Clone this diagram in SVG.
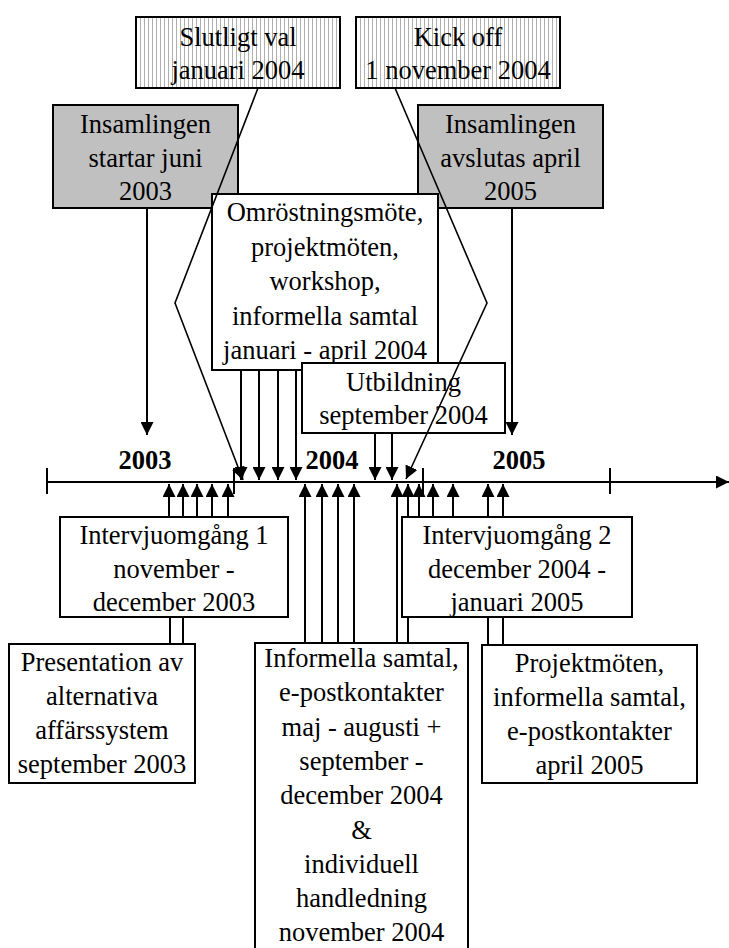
<svg xmlns="http://www.w3.org/2000/svg" width="729" height="948" viewBox="0 0 729 948">
  <defs>
    <!-- vertical hairline hatching for the milestone boxes -->
    <pattern id="stripes" width="4" height="10" patternUnits="userSpaceOnUse">
      <rect width="4" height="10" fill="#fff"/>
      <rect x="0" width="1" height="10" fill="#b0b0b0"/>
    </pattern>
    <marker id="arrow" viewBox="0 0 13 13" refX="13" refY="6.5" markerWidth="13" markerHeight="13" markerUnits="userSpaceOnUse" orient="auto">
      <path d="M0,0 L13,6.5 L0,13 z" fill="#000"/>
    </marker>
  </defs>
  <style>
    .box { stroke: #000; stroke-width: 2; fill: #fff; }
    .gray { fill: #c0c0c0; }
    .striped { fill: url(#stripes); }
    text { font-family: "Liberation Serif", "Times New Roman", serif; font-size: 26.5px; text-anchor: middle; fill: #000; }
    .year { font-weight: bold; }
    .axis line { stroke: #000; stroke-width: 2; }
    .conn line, .conn polyline { stroke: #000; stroke-width: 2; fill: none; }
    .conn .arr { marker-end: url(#arrow); }
    .conn .diag { stroke-width: 1.6; }
  </style>

  <rect width="729" height="948" fill="#fff"/>

  <!-- time axis -->
  <g id="timeline" class="axis">
    <line x1="47" y1="482" x2="729" y2="482" marker-end="url(#arrow)"/>
    <line x1="47" y1="468" x2="47" y2="494"/>
    <line x1="234" y1="468" x2="234" y2="494"/>
    <line x1="423" y1="468" x2="423" y2="494"/>
    <line x1="610" y1="468" x2="610" y2="494"/>
    <text class="year" x="145" y="469">2003</text>
    <text class="year" x="332" y="469">2004</text>
    <text class="year" x="519" y="469">2005</text>
  </g>

  <!-- upper milestones -->
  <g id="slutligt-val">
    <rect class="box striped" x="136" y="17" width="204" height="71"/>
    <text x="238" y="46">Slutligt val</text>
    <text x="238" y="79">januari 2004</text>
  </g>
  <g id="kick-off">
    <rect class="box striped" x="356" y="17" width="204" height="71"/>
    <text x="458" y="46">Kick off</text>
    <text x="458" y="79">1 november 2004</text>
  </g>
  <g id="insamling-start">
    <rect class="box gray" x="53" y="105" width="185" height="103"/>
    <text x="145.5" y="133">Insamlingen</text>
    <text x="145.5" y="167">startar juni</text>
    <text x="145.5" y="200">2003</text>
  </g>
  <g id="insamling-slut">
    <rect class="box gray" x="418" y="105" width="185" height="103"/>
    <text x="510.5" y="133">Insamlingen</text>
    <text x="510.5" y="167">avslutas april</text>
    <text x="510.5" y="200">2005</text>
  </g>
  <g id="omrostning">
    <rect class="box" x="212" y="194" width="226" height="176"/>
    <text x="325" y="221">Omröstningsmöte,</text>
    <text x="325" y="255.5">projektmöten,</text>
    <text x="325" y="290">workshop,</text>
    <text x="325" y="324.5">informella samtal</text>
    <text x="325" y="359">januari - april 2004</text>
  </g>
  <g id="utbildning">
    <rect class="box" x="302" y="363" width="203" height="70"/>
    <text x="403.5" y="391">Utbildning</text>
    <text x="403.5" y="424">september 2004</text>
  </g>

  <!-- lower activities -->
  <g id="intervju-1">
    <rect class="box" x="60" y="517" width="228" height="100"/>
    <text x="174" y="544">Intervjuomgång 1</text>
    <text x="174" y="578">november -</text>
    <text x="174" y="611">december 2003</text>
  </g>
  <g id="intervju-2">
    <rect class="box" x="402" y="517" width="230" height="100"/>
    <text x="517" y="544">Intervjuomgång 2</text>
    <text x="517" y="578">december 2004 -</text>
    <text x="517" y="611">januari 2005</text>
  </g>
  <g id="presentation">
    <rect class="box" x="9" y="644" width="186" height="139"/>
    <text x="102" y="671">Presentation av</text>
    <text x="102" y="705">alternativa</text>
    <text x="102" y="739">affärssystem</text>
    <text x="102" y="773">september 2003</text>
  </g>
  <g id="informella">
    <rect class="box" x="255" y="643" width="213" height="320"/>
    <text x="361.5" y="667">Informella samtal,</text>
    <text x="361.5" y="701.3">e-postkontakter</text>
    <text x="361.5" y="735.6">maj - augusti +</text>
    <text x="361.5" y="769.9">september -</text>
    <text x="361.5" y="804.2">december 2004</text>
    <text x="361.5" y="838.5">&amp;</text>
    <text x="361.5" y="872.8">individuell</text>
    <text x="361.5" y="907.1">handledning</text>
    <text x="361.5" y="941.4">november 2004</text>
  </g>
  <g id="projektmoten">
    <rect class="box" x="482" y="645" width="215" height="138"/>
    <text x="589.5" y="672">Projektmöten,</text>
    <text x="589.5" y="706">informella samtal,</text>
    <text x="589.5" y="740">e-postkontakter</text>
    <text x="589.5" y="774">april 2005</text>
  </g>

  <!-- connectors: events pointing at the axis -->
  <g id="connectors" class="conn">
    <!-- from above -->
    <line class="arr" x1="147" y1="208" x2="147" y2="435"/>
    <line class="arr" x1="512" y1="208" x2="512" y2="435"/>
    <line class="arr" x1="241" y1="370" x2="241" y2="480"/>
    <line class="arr" x1="259" y1="370" x2="259" y2="480"/>
    <line class="arr" x1="278" y1="370" x2="278" y2="480"/>
    <line class="arr" x1="296" y1="370" x2="296" y2="480"/>
    <line class="arr" x1="375" y1="433" x2="375" y2="480"/>
    <line class="arr" x1="392" y1="433" x2="392" y2="480"/>
    <polyline class="arr diag" points="258,88 175,303 243,480"/>
    <polyline class="arr diag" points="395,88 487,303 406,479"/>

    <!-- from below: Intervjuomgång 1 and Presentation -->
    <line class="arr" x1="169" y1="517" x2="169" y2="484"/>
    <line class="arr" x1="183" y1="517" x2="183" y2="484"/>
    <line class="arr" x1="197" y1="517" x2="197" y2="484"/>
    <line class="arr" x1="212" y1="517" x2="212" y2="484"/>
    <line class="arr" x1="228" y1="517" x2="228" y2="484"/>
    <line x1="170" y1="644" x2="170" y2="617"/>
    <line x1="183" y1="644" x2="183" y2="617"/>

    <!-- Informella samtal -->
    <line class="arr" x1="305" y1="643" x2="305" y2="484"/>
    <line class="arr" x1="322" y1="643" x2="322" y2="484"/>
    <line class="arr" x1="338" y1="643" x2="338" y2="484"/>
    <line class="arr" x1="354" y1="643" x2="354" y2="484"/>
    <line class="arr" x1="397" y1="643" x2="397" y2="484"/>
    <line x1="408" y1="643" x2="408" y2="617"/>

    <!-- Intervjuomgång 2 and Projektmöten -->
    <line class="arr" x1="408" y1="517" x2="408" y2="484"/>
    <line class="arr" x1="419" y1="517" x2="419" y2="484"/>
    <line class="arr" x1="433" y1="517" x2="433" y2="484"/>
    <line class="arr" x1="453" y1="517" x2="453" y2="484"/>
    <line class="arr" x1="488" y1="517" x2="488" y2="484"/>
    <line class="arr" x1="503" y1="517" x2="503" y2="484"/>
    <line x1="488" y1="645" x2="488" y2="617"/>
    <line x1="503" y1="645" x2="503" y2="617"/>
  </g>
</svg>
